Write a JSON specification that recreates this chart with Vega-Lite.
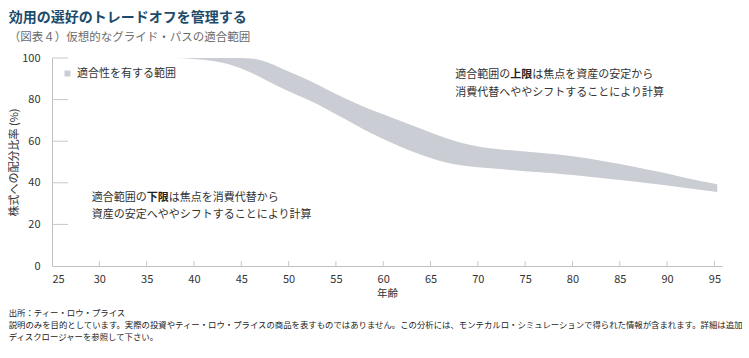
{
  "$schema": "https://vega.github.io/schema/vega-lite/v6.json",
  "padding": {"left": 8, "top": 10, "right": 5, "bottom": 5},
  "background": "white",
  "config": {
    "view": {"stroke": null},
    "font": "Noto Sans CJK JP",
    "concat": {"spacing": 0}
  },
  "title": {
    "text": "効用の選好のトレードオフを管理する",
    "subtitle": "（図表４）仮想的なグライド・パスの適合範囲",
    "anchor": "start",
    "frame": "bounds",
    "font": "Noto Sans CJK JP",
    "fontSize": 14,
    "fontWeight": "bold",
    "color": "#1c4a6b",
    "subtitleFont": "Noto Sans CJK JP",
    "subtitleFontSize": 11.5,
    "subtitleColor": "#6b6b6b",
    "subtitlePadding": 7,
    "offset": 9
  },
  "datasets": {
    "band": [
      {"age": 25, "lower": 100, "upper": 100},
      {"age": 38, "lower": 100, "upper": 100},
      {"age": 40, "lower": 99.5, "upper": 100},
      {"age": 42, "lower": 98.5, "upper": 100},
      {"age": 44, "lower": 96.5, "upper": 100},
      {"age": 46, "lower": 93, "upper": 99.8},
      {"age": 48, "lower": 88.5, "upper": 97.5},
      {"age": 50, "lower": 84, "upper": 93.5},
      {"age": 52, "lower": 80, "upper": 89.5},
      {"age": 54, "lower": 75.5, "upper": 85},
      {"age": 56, "lower": 70.5, "upper": 80.5},
      {"age": 58, "lower": 65.5, "upper": 76.5},
      {"age": 60, "lower": 61, "upper": 73},
      {"age": 62, "lower": 57, "upper": 69.5},
      {"age": 64, "lower": 53.5, "upper": 66},
      {"age": 66, "lower": 50.5, "upper": 62.5},
      {"age": 68, "lower": 48.5, "upper": 59.5},
      {"age": 70, "lower": 47.5, "upper": 57.5},
      {"age": 72, "lower": 46.7, "upper": 56.3},
      {"age": 75, "lower": 45.6, "upper": 55},
      {"age": 78, "lower": 44.6, "upper": 53.8},
      {"age": 80, "lower": 43.7, "upper": 52.8},
      {"age": 82, "lower": 42.8, "upper": 51.5},
      {"age": 85, "lower": 41.3, "upper": 49},
      {"age": 88, "lower": 39.8, "upper": 46.3},
      {"age": 90, "lower": 38.7, "upper": 44.5},
      {"age": 92, "lower": 37.5, "upper": 42.3},
      {"age": 95.3, "lower": 35.6, "upper": 39.3}
    ],
    "yticks": [{"pct": 20}, {"pct": 40}, {"pct": 60}, {"pct": 80}, {"pct": 100}],
    "xticks": [{"age": 30}, {"age": 35}, {"age": 40}, {"age": 45}, {"age": 50}, {"age": 55}, {"age": 60}, {"age": 65}, {"age": 70}, {"age": 75}, {"age": 80}, {"age": 85}, {"age": 90}, {"age": 95}],
    "noteA": [
      {"age": 67.6, "pct": 91.6, "text": "適合範囲の"},
      {"age": 67.6, "pct": 83, "text": "消費代替へややシフトすることにより計算"},
      {"age": 29.2, "pct": 32.6, "text": "適合範囲の"},
      {"age": 29.2, "pct": 24.5, "text": "資産の安定へややシフトすることにより計算"}
    ],
    "noteB": [
      {"age": 67.6, "pct": 91.6, "text": "上限"},
      {"age": 29.2, "pct": 32.6, "text": "下限"}
    ],
    "noteC": [
      {"age": 67.6, "pct": 91.6, "text": "は焦点を資産の安定から"},
      {"age": 29.2, "pct": 32.6, "text": "は焦点を消費代替から"}
    ]
  },
  "vconcat": [
    {
      "width": 670,
      "height": 208,
      "title": {
        "text": [
          "出所：ティー・ロウ・プライス",
          "説明のみを目的としています。実際の投資やティー・ロウ・プライスの商品を表すものではありません。この分析には、モンテカルロ・シミュレーションで得られた情報が含まれます。詳細は追加",
          "ディスクロージャーを参照して下さい。"
        ],
        "orient": "bottom",
        "anchor": "start",
        "frame": "bounds",
        "font": "Noto Sans CJK JP",
        "fontSize": 8.4,
        "fontWeight": "normal",
        "color": "#222222",
        "lineHeight": 12,
        "offset": 10
      },
      "layer": [
        {
          "data": {"name": "band"},
          "mark": {"type": "area", "interpolate": "monotone"},
          "encoding": {
            "x": {
              "field": "age",
              "type": "quantitative",
              "scale": {"domain": [25, 95.8], "nice": false, "zero": false},
              "axis": {
                "title": "年齢",
                "values": [25, 30, 35, 40, 45, 50, 55, 60, 65, 70, 75, 80, 85, 90, 95],
                "grid": false,
                "domainColor": "#bfbfbf",
                "ticks": false,
                "labelPadding": 7,
                "labelFontSize": 11,
                "labelColor": "#333333",
                "titleFontSize": 10.5,
                "titleFontWeight": "normal",
                "titleColor": "#333333",
                "titlePadding": 4,
                "labelFont": "Noto Sans CJK JP",
                "titleFont": "Noto Sans CJK JP"
              }
            },
            "y": {
              "field": "upper",
              "type": "quantitative",
              "scale": {"domain": [0, 100], "nice": false},
              "axis": {
                "title": "株式への配分比率 (%)",
                "values": [0, 20, 40, 60, 80, 100],
                "grid": false,
                "domainColor": "#bfbfbf",
                "ticks": false,
                "labelPadding": 12,
                "labelFontSize": 11,
                "labelColor": "#333333",
                "titleFontSize": 11,
                "titleFontWeight": "normal",
                "titleColor": "#333333",
                "titlePadding": 2,
                "labelFont": "Noto Sans CJK JP",
                "titleFont": "Noto Sans CJK JP"
              }
            },
            "y2": {"field": "lower"},
            "color": {
              "datum": "適合性を有する範囲",
              "type": "nominal",
              "scale": {"range": ["#cbcdd4"]},
              "legend": {
                "title": null,
                "orient": "top-left",
                "offset": 10,
                "symbolType": "square",
                "symbolSize": 36,
                "symbolFillColor": "#c6c6c6",
                "labelFontSize": 11,
                "labelColor": "#333333",
                "labelFont": "Noto Sans CJK JP",
                "padding": 0
              }
            }
          }
        },
        {
          "data": {"name": "yticks"},
          "mark": {"type": "rule", "stroke": "#c8c8c8", "strokeWidth": 1, "opacity": 1},
          "encoding": {
            "x": {"datum": 25, "type": "quantitative"},
            "x2": {"datum": 26.7},
            "y": {"field": "pct", "type": "quantitative"}
          }
        },
        {
          "data": {"name": "xticks"},
          "mark": {"type": "rule", "stroke": "#c8c8c8", "strokeWidth": 1, "opacity": 1},
          "encoding": {
            "x": {"field": "age", "type": "quantitative"},
            "y": {"datum": 0, "type": "quantitative"},
            "y2": {"datum": 2.4}
          }
        },
        {
          "data": {"name": "noteA"},
          "mark": {"type": "text", "align": "left", "baseline": "middle", "fontSize": 11, "color": "#333333", "font": "Noto Sans CJK JP"},
          "encoding": {
            "x": {"field": "age", "type": "quantitative"},
            "y": {"field": "pct", "type": "quantitative"},
            "text": {"field": "text"}
          }
        },
        {
          "data": {"name": "noteB"},
          "mark": {"type": "text", "align": "left", "baseline": "middle", "fontSize": 11, "fontWeight": "bold", "dx": 55, "color": "#222222", "font": "Noto Sans CJK JP"},
          "encoding": {
            "x": {"field": "age", "type": "quantitative"},
            "y": {"field": "pct", "type": "quantitative"},
            "text": {"field": "text"}
          }
        },
        {
          "data": {"name": "noteC"},
          "mark": {"type": "text", "align": "left", "baseline": "middle", "fontSize": 11, "dx": 77, "color": "#333333", "font": "Noto Sans CJK JP"},
          "encoding": {
            "x": {"field": "age", "type": "quantitative"},
            "y": {"field": "pct", "type": "quantitative"},
            "text": {"field": "text"}
          }
        }
      ]
    }
  ]
}
